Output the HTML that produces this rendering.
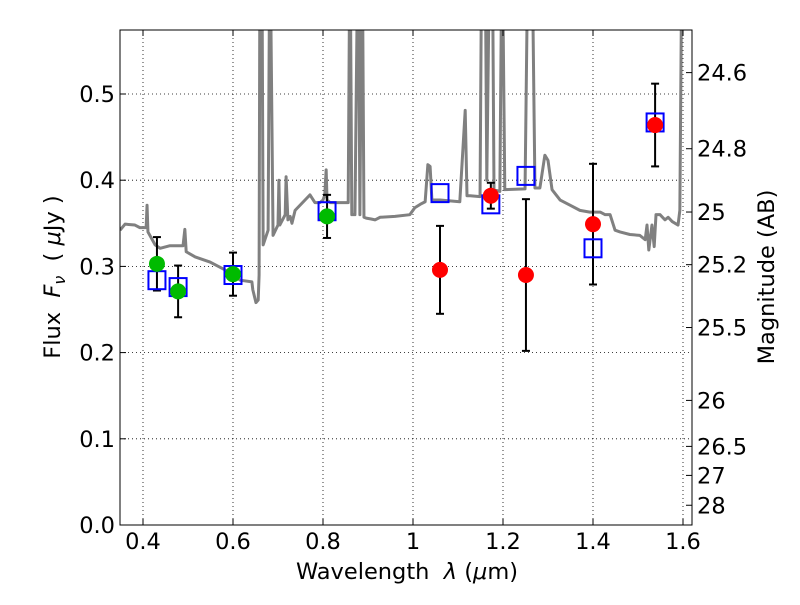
<!DOCTYPE html>
<html><head><meta charset="utf-8"><style>
body{margin:0;background:#fff}
svg text{font-family:"DejaVu Sans","Liberation Sans",sans-serif;fill:#000}
</style></head><body>
<svg id="chart" width="800" height="600" xmlns="http://www.w3.org/2000/svg">
<rect width="800" height="600" fill="#fff"/>
<defs><clipPath id="clip"><rect x="120" y="30" width="572" height="495"/></clipPath></defs>
<g id="grid"></g>
<g id="spec" clip-path="url(#clip)"></g>
<g id="marks" clip-path="url(#clip)"></g>
<rect x="120" y="30" width="572" height="495" fill="none" stroke="#000" stroke-width="1"/>
<g id="axes"></g>
<text x="407" y="579" font-size="22.5" text-anchor="middle" xml:space="preserve">Wavelength  <tspan font-style="italic">λ</tspan> (<tspan font-style="italic">μ</tspan>m)</text>
<text transform="translate(60,277) rotate(-90)" font-size="22.5" text-anchor="middle" xml:space="preserve">Flux  <tspan font-style="italic">F<tspan font-size="16" dy="5">ν</tspan></tspan><tspan dy="-5">  ( </tspan><tspan font-style="italic">μ</tspan>Jy )</text>
<text transform="translate(774,277) rotate(-90)" font-size="22.5" text-anchor="middle">Magnitude (AB)</text>
</svg>
<script>
const specWave=[0.349,0.360,0.382,0.393,0.407,0.409,0.411,0.427,0.438,0.460,0.489,0.493,0.496,0.516,0.549,0.582,0.616,0.642,0.644,0.651,0.656,0.658,0.660,0.664,0.667,0.678,0.682,0.689,0.700,0.702,0.704,0.716,0.718,0.722,0.727,0.731,0.738,0.771,0.782,0.789,0.793,0.800,0.804,0.807,0.809,0.816,0.856,0.860,0.864,0.871,0.878,0.882,0.887,0.891,0.896,0.907,0.916,0.927,0.960,0.993,1.004,1.016,1.027,1.033,1.038,1.042,1.060,1.082,1.104,1.116,1.120,1.127,1.149,1.153,1.160,1.164,1.171,1.176,1.180,1.193,1.198,1.204,1.249,1.256,1.264,1.271,1.282,1.293,1.300,1.309,1.327,1.349,1.371,1.393,1.416,1.427,1.438,1.449,1.460,1.482,1.504,1.516,1.520,1.524,1.531,1.536,1.540,1.549,1.560,1.567,1.576,1.589,1.593,1.598,1.616];
const specFlux=[0.342,0.349,0.348,0.345,0.345,0.371,0.340,0.325,0.321,0.324,0.324,0.343,0.317,0.311,0.305,0.296,0.284,0.282,0.273,0.258,0.261,0.290,0.700,0.700,0.325,0.342,0.700,0.336,0.348,0.400,0.348,0.360,0.404,0.354,0.358,0.350,0.365,0.383,0.374,0.374,0.374,0.377,0.383,0.412,0.377,0.374,0.374,0.700,0.360,0.360,0.700,0.360,0.700,0.357,0.356,0.355,0.354,0.357,0.358,0.360,0.368,0.372,0.375,0.418,0.416,0.377,0.377,0.376,0.375,0.481,0.382,0.382,0.381,0.700,0.700,0.400,0.700,0.700,0.389,0.387,0.700,0.389,0.390,0.700,0.700,0.391,0.391,0.429,0.423,0.389,0.377,0.371,0.365,0.363,0.363,0.360,0.360,0.342,0.340,0.337,0.336,0.331,0.348,0.319,0.348,0.323,0.360,0.360,0.354,0.357,0.352,0.348,0.365,0.700,0.700];
const greenWave=[0.431,0.478,0.600,0.809];
const greenFlux=[0.303,0.271,0.291,0.358];
const greenErr=[0.031,0.030,0.025,0.025];
const redWave=[1.060,1.173,1.251,1.400,1.538];
const redFlux=[0.296,0.382,0.290,0.349,0.464];
const redErr=[0.051,0.015,0.088,0.070,0.048];
const boxWave=[0.431,0.478,0.600,0.809,1.060,1.173,1.251,1.400,1.538];
const boxFlux=[0.284,0.276,0.290,0.364,0.385,0.372,0.405,0.321,0.467];
const xTicks=[0.4,0.6,0.8,1.0,1.2,1.4,1.6];
const xTickLabels=["0.4","0.6","0.8","1","1.2","1.4","1.6"];
const yTicks=[0,0.1,0.2,0.3,0.4,0.5];
const yTickLabels=["0.0","0.1","0.2","0.3","0.4","0.5"];
const magTicks=[24.6,24.8,25,25.2,25.5,26,26.5,27,28];
const magTickLabels=["24.6","24.8","25","25.2","25.5","26","26.5","27","28"];

const NS="http://www.w3.org/2000/svg";
const X=v=>143+(v-0.4)*450;
const Y=v=>525-v*862;
function mk(parent,tag,attrs){const e=document.createElementNS(NS,tag);for(const k in attrs)e.setAttribute(k,attrs[k]);document.getElementById(parent).appendChild(e);return e;}

xTicks.forEach((t,i)=>{
  const g=mk('grid','line',{x1:X(t),x2:X(t),y1:30,y2:525,stroke:'#000','stroke-dasharray':'1,3','stroke-width':0.8});
  
  
  mk('axes','line',{x1:X(t),x2:X(t),y1:525,y2:519,stroke:'#000'});
  mk('axes','line',{x1:X(t),x2:X(t),y1:30,y2:36,stroke:'#000'});
  const l=mk('axes','text',{x:X(t),y:549,'font-size':22.5,'text-anchor':'middle'});
  l.textContent=xTickLabels[i];
  
  
});
yTicks.forEach((t,i)=>{
  const g=mk('grid','line',{x1:120,x2:692,y1:Y(t),y2:Y(t),stroke:'#000','stroke-dasharray':'1,3','stroke-width':0.8});
  
  
  mk('axes','line',{x1:120,x2:126,y1:Y(t),y2:Y(t),stroke:'#000'});
  const l=mk('axes','text',{x:115,y:Y(t)+8,'font-size':22.5,'text-anchor':'end'});
  l.textContent=yTickLabels[i];
  
  
});
magTicks.forEach((m,i)=>{
  const y=Y(Math.pow(10,(23.9-m)/2.5));
  mk('axes','line',{x1:686,x2:692,y1:y,y2:y,stroke:'#000'});
  const l=mk('axes','text',{x:697,y:y+8,'font-size':22.5});
  l.textContent=magTickLabels[i];
  
  
});
const pts=specWave.map((w,i)=>X(w)+','+Y(specFlux[i])).join(' ');
const sp=mk('spec','polyline',{points:pts,fill:'none',stroke:'#808080','stroke-width':3,'stroke-linejoin':'round'});


function errbar(w,f,e){
  const x=X(w),y1=Y(f+e),y2=Y(f-e);
  const a=mk('marks','line',{x1:x,x2:x,y1:y1,y2:y2,stroke:'#000','stroke-width':2});
  
  
  mk('marks','line',{x1:x-4,x2:x+4,y1:y1,y2:y1,stroke:'#000','stroke-width':2});
  mk('marks','line',{x1:x-4,x2:x+4,y1:y2,y2:y2,stroke:'#000','stroke-width':2});
}
greenWave.forEach((w,i)=>errbar(w,greenFlux[i],greenErr[i]));
redWave.forEach((w,i)=>errbar(w,redFlux[i],redErr[i]));
boxWave.forEach((w,i)=>{
  const r=mk('marks','rect',{x:X(w)-8.5,y:Y(boxFlux[i])-9,width:17,height:18,fill:'none',stroke:'#0000ff','stroke-width':2});
  
  
});
greenWave.forEach((w,i)=>{
  const c=mk('marks','circle',{cx:X(w),cy:Y(greenFlux[i]),r:8,fill:'#00bb00'});
  
  
});
redWave.forEach((w,i)=>{
  const c=mk('marks','circle',{cx:X(w),cy:Y(redFlux[i]),r:8,fill:'#ff0000'});
  
  
});
</script>
</body></html>
